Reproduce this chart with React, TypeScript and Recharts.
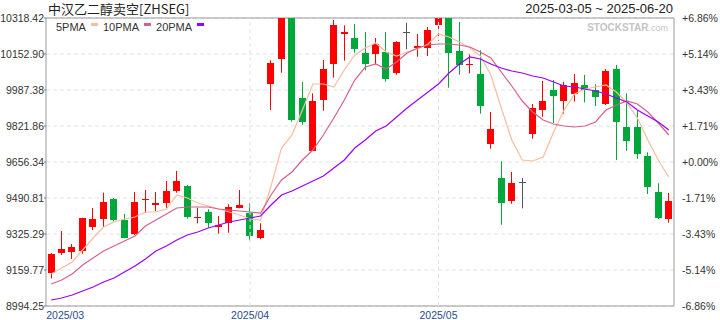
import React from "react";
import {
  Bar,
  CartesianGrid,
  ComposedChart,
  Line,
  ReferenceArea,
  ReferenceLine,
  XAxis,
  YAxis,
} from "recharts";

// trading days shown on the chart
const dates = [
  "2025-03-05", "2025-03-06", "2025-03-07", "2025-03-10", "2025-03-11", "2025-03-12",
  "2025-03-13", "2025-03-14", "2025-03-17", "2025-03-18", "2025-03-19", "2025-03-20",
  "2025-03-21", "2025-03-24", "2025-03-25", "2025-03-26", "2025-03-27", "2025-03-28",
  "2025-03-31", "2025-04-01", "2025-04-02", "2025-04-03", "2025-04-07", "2025-04-08",
  "2025-04-09", "2025-04-10", "2025-04-11", "2025-04-14", "2025-04-15", "2025-04-16",
  "2025-04-17", "2025-04-18", "2025-04-21", "2025-04-22", "2025-04-23", "2025-04-24",
  "2025-04-25", "2025-05-06", "2025-05-07", "2025-05-08", "2025-05-09", "2025-05-12",
  "2025-05-13", "2025-05-14", "2025-05-15", "2025-05-16", "2025-05-19", "2025-05-20",
  "2025-05-21", "2025-05-22", "2025-05-23", "2025-05-26", "2025-05-27", "2025-06-03",
  "2025-06-05", "2025-06-09", "2025-06-11", "2025-06-13", "2025-06-17", "2025-06-20",
];

// x-axis labels shown on the chart
const monthLabels = ["2025/03", "2025/04", "2025/05"];

const opens = [
  9147.4, 9239.3, 9243.9, 9248.5, 9358.9, 9395.6, 9486.2, 9389.7, 9326.7, 9483.0,
  9460.9, 9466.4, 9523.0, 9546.0, 9396.6, 9426.4, 9357.5, 9374.5, 9443.4, 9420.5,
  9308.3, 10016.3, 10131.3, 10340.0, 9950.6, 9708.3, 9942.8, 10108.3, 10243.5, 10226.4,
  10157.5, 10154.3, 10162.0, 10066.9, 10254.0, 10180.5, 10181.9, 10284.8, 10330.0, 10166.7,
  10103.7, 10061.0, 9740.5, 9581.4, 9478.4, 9563.0, 9783.7, 9896.8, 9987.4, 9938.2,
  9970.4, 10010.4, 9986.0, 9923.0, 10084.0, 9815.9, 9815.9, 9683.9, 9518.4, 9395.6,
];
const highs = [
  9237.9, 9339.1, 9279.3, 9400.0, 9444.8, 9515.2, 9490.8, 9417.2, 9518.4, 9527.6,
  9518.4, 9569.0, 9615.0, 9550.6, 9446.2, 9438.9, 9408.0, 9461.9, 9527.6, 9466.4,
  9374.5, 10123.9, 10360.0, 10350.0, 10024.2, 9972.2, 10125.3, 10309.2, 10284.8, 10290.8,
  10254.0, 10226.4, 10254.0, 10212.0, 10296.8, 10244.8, 10277.0, 10345.0, 10345.0, 10300.0,
  10151.5, 10169.9, 9886.2, 9659.5, 9610.4, 9582.8, 9923.0, 10028.8, 10033.3, 10025.5,
  10061.0, 10056.4, 10013.6, 10084.0, 10102.3, 9972.2, 9894.0, 9701.0, 9558.4, 9513.8,
];
const lows = [
  9121.6, 9228.7, 9210.3, 9234.7, 9343.7, 9356.1, 9383.7, 9305.5, 9320.7, 9423.2,
  9431.0, 9443.4, 9515.2, 9395.6, 9374.5, 9354.2, 9326.7, 9331.3, 9443.4, 9296.3,
  9300.9, 9895.4, 10066.9, 9841.6, 9827.8, 9708.3, 9892.2, 10044.0, 10122.0, 10158.8,
  10078.0, 10105.5, 10025.5, 10057.7, 10174.5, 10140.5, 10143.7, 10214.0, 9998.0, 10057.7,
  10064.2, 9878.4, 9717.5, 9368.0, 9464.6, 9443.4, 9763.5, 9864.6, 9835.7, 9878.4,
  9933.6, 9930.8, 9913.8, 9918.4, 9665.5, 9708.3, 9671.5, 9509.2, 9394.3, 9377.2,
];
const closes = [
  9233.3, 9256.3, 9265.5, 9398.9, 9394.3, 9472.4, 9389.7, 9308.3, 9472.4, 9487.6,
  9466.4, 9523.0, 9569.0, 9404.8, 9401.2, 9374.5, 9368.0, 9448.0, 9458.6, 9316.1,
  9343.7, 10111.5, 10346.0, 9849.4, 9841.6, 9936.8, 10084.0, 10286.2, 10254.0, 10177.3,
  10107.0, 10198.9, 10039.3, 10208.0, 10254.0, 10187.4, 10263.2, 10336.8, 10158.8, 10102.3,
  10108.3, 9915.2, 9806.7, 9469.2, 9558.4, 9563.0, 9903.2, 9936.8, 9961.2, 10010.4,
  10019.6, 9988.8, 9956.6, 10074.7, 9841.6, 9754.3, 9694.5, 9542.8, 9400.2, 9475.6,
];

const ma5 = [
  9141.4, 9169.0, 9196.6, 9251.7, 9306.9, 9357.5, 9380.4, 9394.3, 9403.4, 9426.4,
  9426.4, 9440.2, 9504.6, 9490.8, 9467.8, 9454.0, 9440.2, 9426.4, 9412.6, 9394.3,
  9389.7, 9546.0, 9720.7, 9780.5, 9895.4, 10015.0, 10015.0, 10001.2, 10079.3, 10148.3,
  10180.5, 10203.5, 10162.0, 10143.7, 10162.0, 10175.9, 10198.9, 10244.8, 10231.0, 10208.0,
  10180.5, 10143.7, 10056.4, 9904.6, 9757.5, 9665.5, 9660.9, 9679.3, 9794.3, 9895.4,
  9969.0, 9992.0, 10001.2, 10010.4, 9978.2, 9927.6, 9858.6, 9757.5, 9665.5, 9587.4,
];
const ma10 = [
  9095.4, 9113.8, 9141.4, 9182.8, 9214.9, 9247.1, 9270.1, 9293.1, 9316.1, 9362.1,
  9389.7, 9417.2, 9444.8, 9449.4, 9449.4, 9449.4, 9440.2, 9435.6, 9431.0, 9426.4,
  9421.8, 9504.6, 9573.6, 9610.4, 9665.5, 9711.5, 9780.5, 9858.6, 9941.4, 10033.3,
  10093.1, 10107.0, 10084.0, 10116.1, 10157.5, 10180.5, 10194.3, 10198.9, 10198.9, 10194.3,
  10185.1, 10162.0, 10134.5, 10070.1, 10005.8, 9936.8, 9886.2, 9849.4, 9831.0, 9821.9,
  9817.3, 9821.9, 9840.2, 9895.4, 9918.4, 9936.8, 9923.0, 9886.2, 9835.7, 9780.5,
];
const ma20 = [
  9021.8, 9031.0, 9044.8, 9063.2, 9081.6, 9104.6, 9123.0, 9150.6, 9178.2, 9210.3,
  9247.1, 9270.1, 9297.7, 9320.7, 9334.5, 9352.9, 9366.7, 9380.4, 9389.7, 9398.9,
  9408.0, 9458.6, 9504.6, 9523.0, 9546.0, 9569.0, 9592.0, 9628.7, 9665.5, 9720.7,
  9757.5, 9798.9, 9821.9, 9863.2, 9904.6, 9941.4, 9978.2, 10015.0, 10065.5, 10107.0,
  10139.1, 10129.9, 10107.0, 10088.5, 10074.7, 10065.5, 10051.7, 10042.5, 10024.2, 10005.8,
  10001.2, 9992.0, 9982.8, 9969.0, 9950.6, 9932.2, 9895.4, 9867.8, 9840.2, 9803.5,
];

const priceTicks = [8994.25, 9159.77, 9325.29, 9490.81, 9656.34, 9821.86, 9987.38, 10152.9, 10318.42];
const pctLabels = ["-6.86%", "-5.14%", "-3.43%", "-1.71%", "+0.00%", "+1.71%", "+3.43%", "+5.14%", "+6.86%"];

const data = dates.map((date, i) => ({
  date,
  open: opens[i],
  high: highs[i],
  low: lows[i],
  close: closes[i],
  ma5: ma5[i],
  ma10: ma10[i],
  ma20: ma20[i],
}));

// first trading day of each labelled month
const monthStarts = monthLabels.map((m) => dates.find((d) => d.slice(0, 7) === m.replace("/", "-")) as string);

const FONT = "'Liberation Sans', Arial, sans-serif";
const UP = "#ff0000";
const DOWN = "#00a83c";

const Candle = (props: any) => {
  const { x, y, width, height, payload } = props;
  const { open, close, high, low } = payload;
  const k = height / (high - low);
  const top = y + (high - Math.max(open, close)) * k;
  const bot = y + (high - Math.min(open, close)) * k;
  const color = close > open ? UP : close < open ? DOWN : "#555555";
  const wx = Math.floor(x + width / 2);
  const by = Math.round(top);
  const bh = Math.max(1, Math.round(bot) - by);
  return (
    <g>
      <rect x={wx} y={y} width={1} height={height} fill={color} />
      <rect x={wx - 3} y={by} width={7} height={bh} fill={color} />
    </g>
  );
};

const LeftTick = (props: any) => (
  <text x={props.x} y={props.y} textAnchor="end" dominantBaseline="central" fontSize={10.5} fontFamily={FONT} fill="#333">
    {Number(props.payload.value).toFixed(2)}
  </text>
);

const RightTick = (props: any) => (
  <text x={props.x} y={props.y} textAnchor="start" dominantBaseline="central" fontSize={10.5} fontFamily={FONT} fill="#333">
    {pctLabels[props.index]}
  </text>
);

const MonthTick = (props: any) => {
  const first = props.index === 0;
  return (
    <text x={first ? props.x - 5 : props.x} y={props.y + 11} textAnchor={first ? "start" : "middle"} fontSize={10.5} fontFamily={FONT} fill="#2b4c8c">
      {monthLabels[props.index]}
    </text>
  );
};

const legendItems = [
  { name: "5PMA", color: "#f7bd9e" },
  { name: "10PMA", color: "#d6608c" },
  { name: "20PMA", color: "#9900ff" },
];

export default function App() {
  return (
    <div style={{ position: "absolute", left: 0, top: 0, width: 720, height: 320, background: "#fff" }}>
      <ComposedChart width={720} height={320} data={data} margin={{ top: 18, right: 0, bottom: 0, left: 0 }}>
        <CartesianGrid vertical={false} stroke="#e2e2e2" strokeDasharray="4 3" />
        <XAxis
          dataKey="date"
          ticks={monthStarts}
          interval={0}
          height={14}
          axisLine={false}
          tickLine={false}
          tickSize={0}
          tick={<MonthTick />}
        />
        <YAxis
          domain={[8994.25, 10318.42]}
          ticks={priceTicks}
          allowDataOverflow
          width={46}
          axisLine={false}
          tickSize={2}
          tickMargin={0}
          tickLine={{ stroke: "#5577aa" }}
          tick={<LeftTick />}
        />
        <YAxis
          yAxisId="pct"
          orientation="right"
          domain={[8994.25, 10318.42]}
          ticks={priceTicks}
          allowDataOverflow
          width={46}
          axisLine={false}
          tickLine={false}
          tickSize={0}
          tickMargin={8}
          tick={<RightTick />}
        />
        {monthStarts.slice(1).map((d) => (
          <ReferenceLine key={d} x={d} stroke="#e2e2e2" strokeDasharray="4 3" />
        ))}
        <Bar
          dataKey={(d: any) => [d.low, d.high]}
          shape={(p: any) => <Candle {...p} />}
          isAnimationActive={false}
        />
        <Line type="linear" dataKey="ma5" stroke="#f7bd9e" strokeWidth={1.2} dot={false} activeDot={false} isAnimationActive={false} />
        <Line type="linear" dataKey="ma10" stroke="#d6608c" strokeWidth={1.2} dot={false} activeDot={false} isAnimationActive={false} />
        <Line type="linear" dataKey="ma20" stroke="#9900ff" strokeWidth={1.2} dot={false} activeDot={false} isAnimationActive={false} />
        <ReferenceArea y1={8994.25} y2={10318.42} fill="none" stroke="#999" strokeWidth={1} />
      </ComposedChart>

      <div style={{ position: "absolute", left: 48, top: 1, fontSize: 13, lineHeight: "16px", fontFamily: "'Noto Sans CJK SC', sans-serif", color: "#222" }}>
        中汉乙二醇卖空[ZHSEG]
      </div>
      <div style={{ position: "absolute", right: 47, top: 1, fontSize: 13, lineHeight: "15px", fontFamily: FONT, color: "#222" }}>
        2025-03-05 ~ 2025-06-20
      </div>
      <div style={{ position: "absolute", left: 56, top: 21, display: "flex", fontSize: 11, lineHeight: "13px", fontFamily: FONT, color: "#333" }}>
        {legendItems.map((it) => (
          <div key={it.name} style={{ display: "flex", marginRight: 5 }}>
            <span>{it.name}</span>
            <span style={{ display: "inline-block", width: 7, height: 3, marginLeft: 5, marginTop: 2, background: it.color }} />
          </div>
        ))}
      </div>
      <div style={{ position: "absolute", right: 52, top: 22, fontSize: 10, lineHeight: "12px", fontFamily: FONT, color: "#c4c4c4" }}>
        <b>STOCKSTAR</b>
        <span style={{ fontSize: 9 }}>.com</span>
      </div>
    </div>
  );
}
